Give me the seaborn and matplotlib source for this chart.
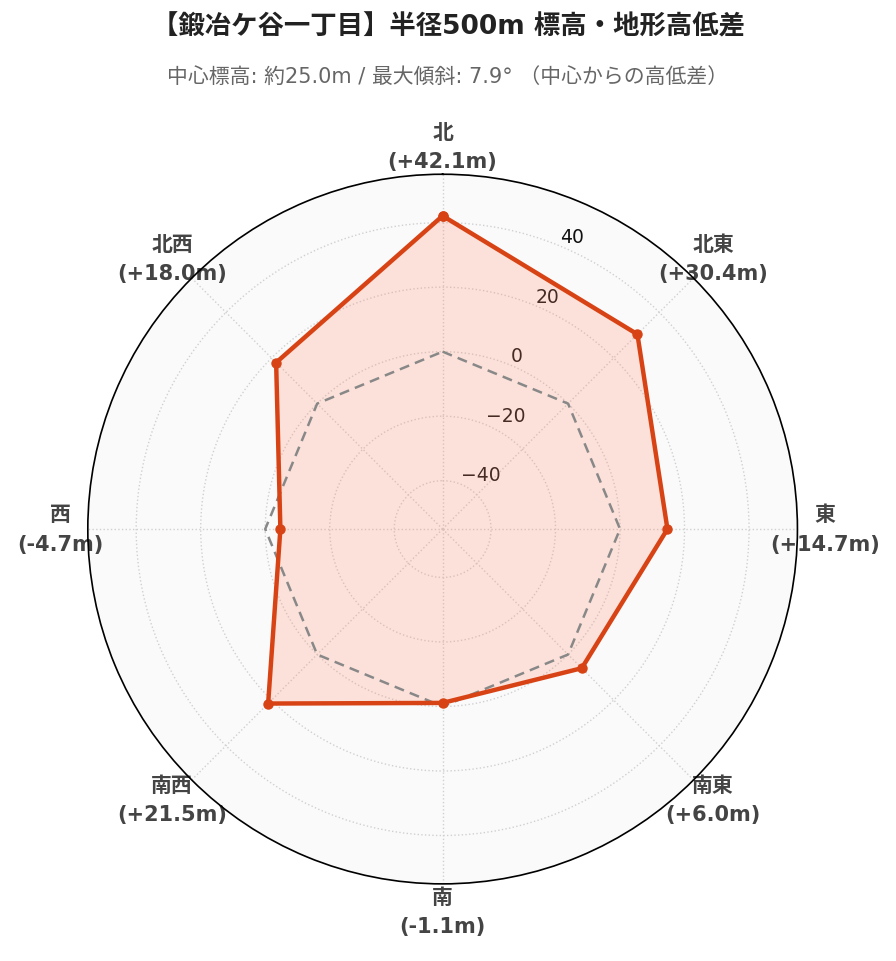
import numpy as np
import matplotlib
matplotlib.use("Agg")
import matplotlib.pyplot as plt
import seaborn as sns

directions = ["北", "北東", "東", "南東", "南", "南西", "西", "北西"]
elev_diff = [42.1, 30.4, 14.7, 6.0, -1.1, 21.5, -4.7, 18.0]
r_ticks = [-40, -20, 0, 20, 40]
r_min, r_max = -55, 55

title = "【鍛冶ケ谷一丁目】半径500m 標高・地形高低差"
subtitle = "中心標高: 約25.0m / 最大傾斜: 7.9° （中心からの高低差）"

sns.set_theme(style="white")
plt.rcParams["font.family"] = ["DejaVu Sans", "Noto Sans CJK JP"]

line_color = "#d84315"
fill_color = "#ff8a65"

fig = plt.figure(figsize=(8.96, 9.62), dpi=100)
ax = fig.add_axes([0.098, 0.080, 0.792, 0.738], projection="polar")
ax.set_theta_zero_location("N")
ax.set_theta_direction(-1)
ax.set_facecolor("#fafafa")

angles = np.linspace(0, 2 * np.pi, len(directions), endpoint=False)
closed_angles = np.append(angles, angles[0])
closed_vals = np.append(elev_diff, elev_diff[0])

# zero reference line
ax.plot(closed_angles, np.zeros_like(closed_angles), color="#888888",
        linestyle="--", linewidth=1.8, dashes=(4, 2.5), zorder=2)

ax.fill(closed_angles, closed_vals, color=fill_color, alpha=0.22, zorder=1)
ax.plot(closed_angles, closed_vals, color=line_color, linewidth=3.2,
        marker="o", markersize=6.5, zorder=3)

ax.set_ylim(r_min, r_max)
ax.set_rticks(r_ticks)
ax.set_yticklabels([f"{t}".replace("-", "\u2212") for t in r_ticks],
                   fontsize=13.5, color="#111111")
ax.set_rlabel_position(22.5)

ax.set_xticks(angles)
ax.set_xticklabels([f"{d}\n({v:+.1f}m)" for d, v in zip(directions, elev_diff)],
                   fontsize=15, fontweight="bold", color="#444444",
                   linespacing=1.6)
ax.tick_params(axis="x", pad=7)

ax.grid(True, color="#d0d0d0", linestyle=":", linewidth=1.0)
ax.spines["polar"].set_color("black")
ax.spines["polar"].set_linewidth(1.2)

fig.text(0.5, 0.971, title, ha="center", va="center", fontsize=19,
         fontweight="bold", color="#222222")
fig.text(0.5, 0.920, subtitle, ha="center", va="center", fontsize=15,
         color="#666666")

fig.savefig("out.png", dpi=100)
